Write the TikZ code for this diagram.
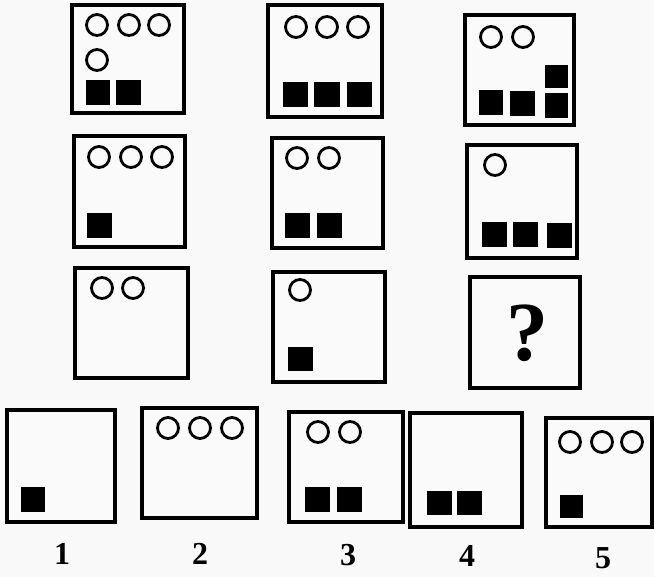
\documentclass[tikz,border=0pt]{standalone}
\usepackage{fontspec}
\setmainfont{Liberation Serif}
\begin{document}
\begin{tikzpicture}[x=1pt,y=-1pt,
  cell/.style={draw=black, line width=3.3pt, fill=white!96!gray},
  ring/.style={draw=black, line width=2.8pt},
  blk/.style={fill=black},
  lbl/.style={font=\fontsize{32}{32}\selectfont\bfseries, inner sep=0pt},
  qmark/.style={font=\fontsize{84}{84}\selectfont\bfseries, inner sep=0pt}]
\fill[white!95!gray] (0,0) rectangle (654,577);
\useasboundingbox (0,0) rectangle (654,577);
% ---------- row 1 ----------
\draw[cell] (72,5) rectangle (184,113);
\foreach \x in {97,129,159} \draw[ring] (\x,25) circle[radius=10.5pt];
\draw[ring] (97,60) circle[radius=10.5pt];
\fill[blk] (86,80) rectangle (110,105);
\fill[blk] (116,80) rectangle (141,105);

\draw[cell] (268,5) rectangle (382,117);
\foreach \x in {296,327,358} \draw[ring] (\x,27) circle[radius=10.5pt];
\fill[blk] (283,82) rectangle (308,107);
\fill[blk] (314,82) rectangle (340,107);
\fill[blk] (347,82) rectangle (372,107);

\draw[cell] (465,15) rectangle (574,125);
\foreach \x in {491,523} \draw[ring] (\x,37) circle[radius=10.5pt];
\fill[blk] (479,90) rectangle (503,115);
\fill[blk] (510,91) rectangle (535,116);
\fill[blk] (545,93) rectangle (568,118);
\fill[blk] (545,65) rectangle (568,88);
% ---------- row 2 ----------
\draw[cell] (74,136) rectangle (185,247);
\foreach \x in {99,131,162} \draw[ring] (\x,157) circle[radius=10.5pt];
\fill[blk] (87,213) rectangle (112,238);

\draw[cell] (272,138) rectangle (383,248);
\foreach \x in {297,329} \draw[ring] (\x,158) circle[radius=10.5pt];
\fill[blk] (285,213) rectangle (310,238);
\fill[blk] (317,213) rectangle (342,238);

\draw[cell] (467,145) rectangle (577,258);
\draw[ring] (495,165) circle[radius=10.5pt];
\fill[blk] (482,222) rectangle (507,247);
\fill[blk] (513,222) rectangle (538,247);
\fill[blk] (547,223) rectangle (572,248);
% ---------- row 3 ----------
\draw[cell] (75,268) rectangle (188,378);
\foreach \x in {102,133} \draw[ring] (\x,288) circle[radius=10.5pt];

\draw[cell] (273,272) rectangle (385,382);
\draw[ring] (300,290) circle[radius=10.5pt];
\fill[blk] (288,347) rectangle (313,371);

\draw[cell] (470,277) rectangle (580,388);
\node[qmark] (q) at (527,333) {?};
% ---------- answers ----------
\draw[cell] (7,410) rectangle (115,522);
\fill[blk] (21,487) rectangle (45,512);

\draw[cell] (142,408) rectangle (257,518);
\foreach \x in {168,200,232} \draw[ring] (\x,428) circle[radius=10.5pt];

\draw[cell] (289,412) rectangle (403,522);
\foreach \x in {318,350} \draw[ring] (\x,432) circle[radius=10.5pt];
\fill[blk] (305,487) rectangle (330,512);
\fill[blk] (337,487) rectangle (362,512);

\draw[cell] (410,413) rectangle (522,527);
\fill[blk] (427,491) rectangle (452,515);
\fill[blk] (457,491) rectangle (482,515);

\draw[cell] (546,418) rectangle (652,527);
\foreach \x in {570,602,632} \draw[ring] (\x,442) circle[radius=10.5pt];
\fill[blk] (560,495) rectangle (583,518);

\node[lbl] (l1) at (62,554) {1};
\node[lbl] (l2) at (200,554) {2};
\node[lbl] (l3) at (348,555) {3};
\node[lbl] (l4) at (467,556) {4};
\node[lbl] (l5) at (603,558) {5};
\end{tikzpicture}
\end{document}
